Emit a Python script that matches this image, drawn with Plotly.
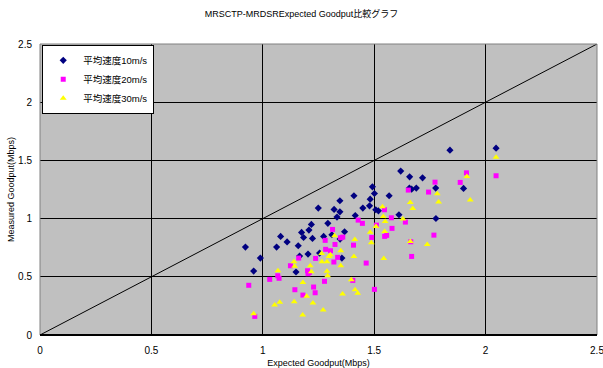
import plotly.graph_objects as go

title_text = "MRSCTP-MRDSRExpected Goodput比較グラフ"
x_title = "Expected Goodput(Mbps)"
y_title = "Measured Goodput(Mbps)"
series_names = ["平均速度10m/s", "平均速度20m/s", "平均速度30m/s"]
tick_vals = [0, 0.5, 1, 1.5, 2, 2.5]
tick_text = ["0", "0.5", "1", "1.5", "2", "2.5"]

# 平均速度10m/s
x10 = [1.249, 1.346, 1.409, 1.320, 1.346, 1.333, 1.415, 1.449, 1.479, 1.218,
       1.207, 1.174, 1.183, 1.223, 1.292, 1.367, 1.273, 1.080, 1.109, 1.062,
       1.159, 0.922, 1.310, 1.347, 0.989, 0.959, 1.203, 1.165, 1.255, 1.149,
       1.355, 1.840, 2.047, 1.619, 1.659, 1.717, 1.658, 1.668, 1.689, 1.776,
       1.901, 1.567, 1.492, 1.501, 1.482, 1.507, 1.519, 1.611, 1.777]
y10 = [1.090, 1.153, 1.196, 1.079, 1.058, 1.013, 1.027, 1.090, 1.110, 0.950,
       0.901, 0.881, 0.838, 0.830, 0.959, 0.887, 0.847, 0.847, 0.800, 0.755,
       0.767, 0.755, 0.861, 0.824, 0.661, 0.549, 0.695, 0.678, 0.704, 0.541,
       0.661, 1.588, 1.605, 1.408, 1.359, 1.350, 1.262, 1.253, 1.262, 1.262,
       1.259, 1.196, 1.273, 1.216, 1.167, 1.076, 1.067, 1.033, 1.001]

# 平均速度20m/s
x20 = [1.428, 1.447, 1.313, 1.280, 1.349, 1.359, 1.324, 1.407, 1.161, 1.124,
       1.067, 1.073, 1.031, 0.937, 1.237, 1.282, 1.304, 1.336, 1.319, 1.464,
       1.201, 1.203, 1.209, 1.277, 1.228, 1.144, 1.180, 1.235, 1.404, 0.964,
       1.914, 2.047, 1.773, 1.886, 1.653, 1.744, 1.546, 1.577, 1.640, 1.580,
       1.510, 1.489, 1.547, 1.556, 1.768, 1.664, 1.668, 1.501]
y20 = [0.987, 0.959, 0.907, 0.813, 0.835, 0.841, 0.778, 0.772, 0.661, 0.595,
       0.509, 0.487, 0.478, 0.427, 0.658, 0.736, 0.724, 0.667, 0.627, 0.618,
       0.552, 0.526, 0.538, 0.461, 0.412, 0.389, 0.343, 0.363, 0.469, 0.160,
       1.393, 1.368, 1.313, 1.311, 1.245, 1.228, 1.076, 1.007, 0.970, 0.916,
       0.944, 0.838, 0.847, 0.856, 0.858, 0.801, 0.675, 0.392]

# 平均速度30m/s
x30 = [1.322, 1.413, 1.068, 1.140, 1.143, 1.213, 1.218, 1.265, 1.288, 1.303,
       1.297, 1.350, 1.350, 1.409, 1.288, 1.291, 1.264, 1.180, 1.397, 1.358,
       1.414, 1.426, 1.197, 1.141, 1.076, 1.053, 1.225, 1.271, 1.179, 0.959,
       2.047, 1.916, 1.783, 1.662, 1.789, 1.673, 1.931, 1.537, 1.541, 1.549,
       1.629, 1.508, 1.482, 1.547, 1.662, 1.487, 1.738, 1.543]
y30 = [0.852, 0.821, 0.552, 0.629, 0.590, 0.595, 0.543, 0.629, 0.629, 0.689,
       0.675, 0.724, 0.595, 0.675, 0.547, 0.509, 0.701, 0.452, 0.475, 0.352,
       0.389, 0.358, 0.332, 0.286, 0.281, 0.258, 0.275, 0.215, 0.172, 0.183,
       1.528, 1.362, 1.213, 1.139, 1.142, 1.087, 1.159, 1.102, 1.019, 0.976,
       0.996, 0.933, 0.882, 0.890, 0.804, 0.792, 0.778, 0.658]

# reference line y = x
ref_x = [0, 2.5]
ref_y = [0, 2.5]

FONT = "Liberation Sans, Arial, Noto Sans CJK JP, sans-serif"

fig = go.Figure()
fig.add_trace(go.Scatter(x=ref_x, y=ref_y, mode="lines",
                         line=dict(color="black", width=1),
                         showlegend=False, hoverinfo="skip", cliponaxis=False))
fig.add_trace(go.Scatter(x=x10, y=y10, mode="markers", name=series_names[0],
                         marker=dict(symbol="diamond", size=5.5, color="#000080")))
fig.add_trace(go.Scatter(x=x20, y=y20, mode="markers", name=series_names[1],
                         marker=dict(symbol="square", size=5, color="#FF00FF")))
fig.add_trace(go.Scatter(x=x30, y=y30, mode="markers", name=series_names[2],
                         marker=dict(symbol="triangle-up", size=6, color="#FFFF00")))

axis_common = dict(
    range=[0, 2.5], tickmode="array", tickvals=tick_vals, ticktext=tick_text,
    showgrid=True, gridcolor="#000000", gridwidth=1,
    zeroline=False, showline=False, ticks="", automargin=False,
    ticklabeloverflow="allow",
    tickfont=dict(family=FONT, size=10, color="#000000"),
)

fig.update_layout(
    width=603, height=368,
    margin=dict(l=40, r=6, t=44, b=33),
    paper_bgcolor="white", plot_bgcolor="#C0C0C0",
    font=dict(family=FONT, color="#000000"),
    title=dict(text=title_text, x=0.5, xanchor="center", y=0.962, yanchor="middle",
               font=dict(family=FONT, size=9, color="#000000")),
    xaxis=dict(**axis_common, ticklabelstandoff=8,
               title=dict(text=x_title, font=dict(family=FONT, size=9), standoff=5)),
    yaxis=dict(**axis_common, ticklabelstandoff=7,
               title=dict(text=y_title, font=dict(family=FONT, size=9), standoff=1)),
    legend=dict(x=0.004, y=0.997, xanchor="left", yanchor="top",
                bgcolor="white", bordercolor="black", borderwidth=1,
                font=dict(family=FONT, size=9.5, color="#000000"),
                tracegroupgap=0, itemwidth=30),
    showlegend=True,
)

# plot border (Excel style: gray top/left/right, black bottom)
fig.add_shape(type="rect", xref="paper", yref="paper", x0=0, y0=0, x1=1, y1=1,
              line=dict(color="#808080", width=1), layer="above")
fig.add_shape(type="line", xref="paper", yref="paper", x0=0, y0=0, x1=1, y1=0,
              line=dict(color="#000000", width=2), layer="above")

fig.write_html("out.html", config={"displayModeBar": False},
               post_script="document.body.style.margin='0';")
